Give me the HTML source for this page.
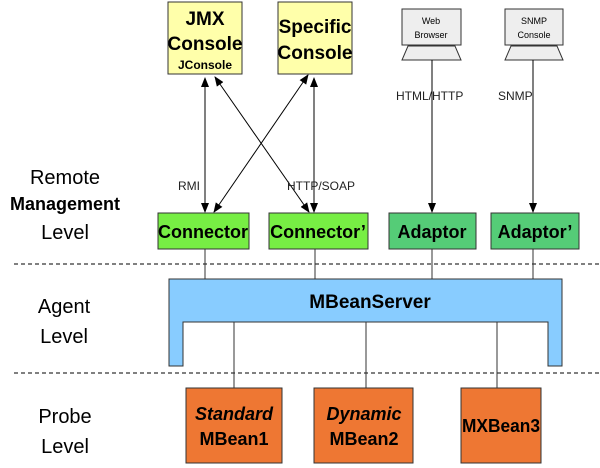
<!DOCTYPE html>
<html><head><meta charset="utf-8"><style>html,body{margin:0;padding:0;background:#fff}svg{display:block}</style></head>
<body>
<svg width="600" height="468" viewBox="0 0 600 468" xmlns="http://www.w3.org/2000/svg" font-family="Liberation Sans, Arial, sans-serif">
<defs>
<marker id="a" markerWidth="10" markerHeight="10" refX="9" refY="5" orient="auto-start-reverse" markerUnits="userSpaceOnUse"><path d="M0,1 L10,5 L0,9 Z" fill="#000"/></marker>
</defs>
<!-- dashed lines -->
<line x1="14" y1="264" x2="600" y2="264" stroke="#000" stroke-dasharray="4,3"/>
<line x1="14" y1="373" x2="600" y2="373" stroke="#000" stroke-dasharray="4,3"/>
<!-- left labels -->
<g font-size="20" text-anchor="middle" fill="#000">
<text x="65" y="184">Remote</text>
<text x="65" y="210" font-weight="bold" font-size="18" textLength="110" lengthAdjust="spacingAndGlyphs">Management</text>
<text x="65" y="239">Level</text>
<text x="64" y="313">Agent</text>
<text x="64" y="343">Level</text>
<text x="65" y="423">Probe</text>
<text x="65" y="453">Level</text>
</g>
<!-- consoles -->
<rect x="168" y="2" width="74" height="72" fill="#ffffaa" stroke="#333"/>
<text x="205" y="25" font-size="19" font-weight="bold" text-anchor="middle">JMX</text>
<text x="205" y="50" font-size="19" font-weight="bold" text-anchor="middle">Console</text>
<text x="205" y="69" font-size="12" font-weight="bold" text-anchor="middle">JConsole</text>
<rect x="278" y="2" width="74" height="72" fill="#ffffaa" stroke="#333"/>
<text x="315" y="33" font-size="19" font-weight="bold" text-anchor="middle">Specific</text>
<text x="315" y="59" font-size="19" font-weight="bold" text-anchor="middle">Console</text>
<!-- monitors -->
<rect x="402" y="9" width="59" height="36" fill="#eeeeee" stroke="#333"/>
<path d="M408,46 L455,46 L461,60 L402,60 Z" fill="#eeeeee" stroke="#333"/>
<text x="431" y="24" font-size="9" text-anchor="middle">Web</text>
<text x="431" y="38" font-size="9" text-anchor="middle">Browser</text>
<rect x="505" y="9" width="58" height="36" fill="#eeeeee" stroke="#333"/>
<path d="M511,46 L557,46 L563,60 L505,60 Z" fill="#eeeeee" stroke="#333"/>
<text x="534" y="24" font-size="9" text-anchor="middle">SNMP</text>
<text x="534" y="38" font-size="9" text-anchor="middle">Console</text>
<!-- arrows -->
<g stroke="#000" stroke-width="1">
<line x1="205" y1="78" x2="205" y2="212" marker-start="url(#a)" marker-end="url(#a)"/>
<line x1="314" y1="78" x2="314" y2="212" marker-start="url(#a)" marker-end="url(#a)"/>
<line x1="215" y1="77" x2="309" y2="212" marker-start="url(#a)" marker-end="url(#a)"/>
<line x1="308" y1="75" x2="214" y2="212" marker-start="url(#a)" marker-end="url(#a)"/>
<line x1="432" y1="60" x2="432" y2="212" marker-end="url(#a)"/>
<line x1="533" y1="60" x2="533" y2="212" marker-end="url(#a)"/>
</g>
<g font-size="12" fill="#222">
<text x="178" y="190">RMI</text>
<text x="287" y="190">HTTP/SOAP</text>
<text x="396" y="100">HTML/HTTP</text>
<text x="498" y="100">SNMP</text>
</g>
<!-- connectors -->
<rect x="158" y="213" width="91" height="36" fill="#77ee44" stroke="#333"/>
<text x="203" y="238" font-size="18" font-weight="bold" text-anchor="middle">Connector</text>
<rect x="269" y="213" width="99" height="36" fill="#77ee44" stroke="#333"/>
<text x="318" y="238" font-size="18" font-weight="bold" text-anchor="middle">Connector’</text>
<rect x="389" y="213" width="87" height="36" fill="#55cc77" stroke="#333"/>
<text x="432" y="238" font-size="18" font-weight="bold" text-anchor="middle">Adaptor</text>
<rect x="491" y="213" width="88" height="36" fill="#55cc77" stroke="#333"/>
<text x="535" y="238" font-size="18" font-weight="bold" text-anchor="middle">Adaptor’</text>
<!-- lines to mbeanserver -->
<g stroke="#333">
<line x1="205" y1="249" x2="205" y2="279"/>
<line x1="315" y1="249" x2="315" y2="279"/>
<line x1="432" y1="249" x2="432" y2="279"/>
<line x1="533" y1="249" x2="533" y2="279"/>
</g>
<path d="M169,279 L562,279 L562,366 L548,366 L548,322 L183,322 L183,366 L169,366 Z" fill="#88ccff" stroke="#333"/>
<text x="370" y="308" font-size="19" font-weight="bold" text-anchor="middle">MBeanServer</text>
<g stroke="#333">
<line x1="234" y1="322" x2="234" y2="388"/>
<line x1="366" y1="322" x2="366" y2="388"/>
<line x1="497" y1="322" x2="497" y2="388"/>
</g>
<rect x="186" y="388" width="96" height="75" fill="#ee7733" stroke="#333"/>
<text x="234" y="420" font-size="18" font-weight="bold" font-style="italic" text-anchor="middle">Standard</text>
<text x="234" y="445" font-size="18" font-weight="bold" text-anchor="middle">MBean1</text>
<rect x="314" y="388" width="99" height="75" fill="#ee7733" stroke="#333"/>
<text x="364" y="420" font-size="18" font-weight="bold" font-style="italic" text-anchor="middle">Dynamic</text>
<text x="364" y="445" font-size="18" font-weight="bold" text-anchor="middle">MBean2</text>
<rect x="461" y="388" width="80" height="75" fill="#ee7733" stroke="#333"/>
<text x="501" y="432" font-size="18" font-weight="bold" text-anchor="middle" textLength="78" lengthAdjust="spacingAndGlyphs">MXBean3</text>
</svg>
</body></html>
